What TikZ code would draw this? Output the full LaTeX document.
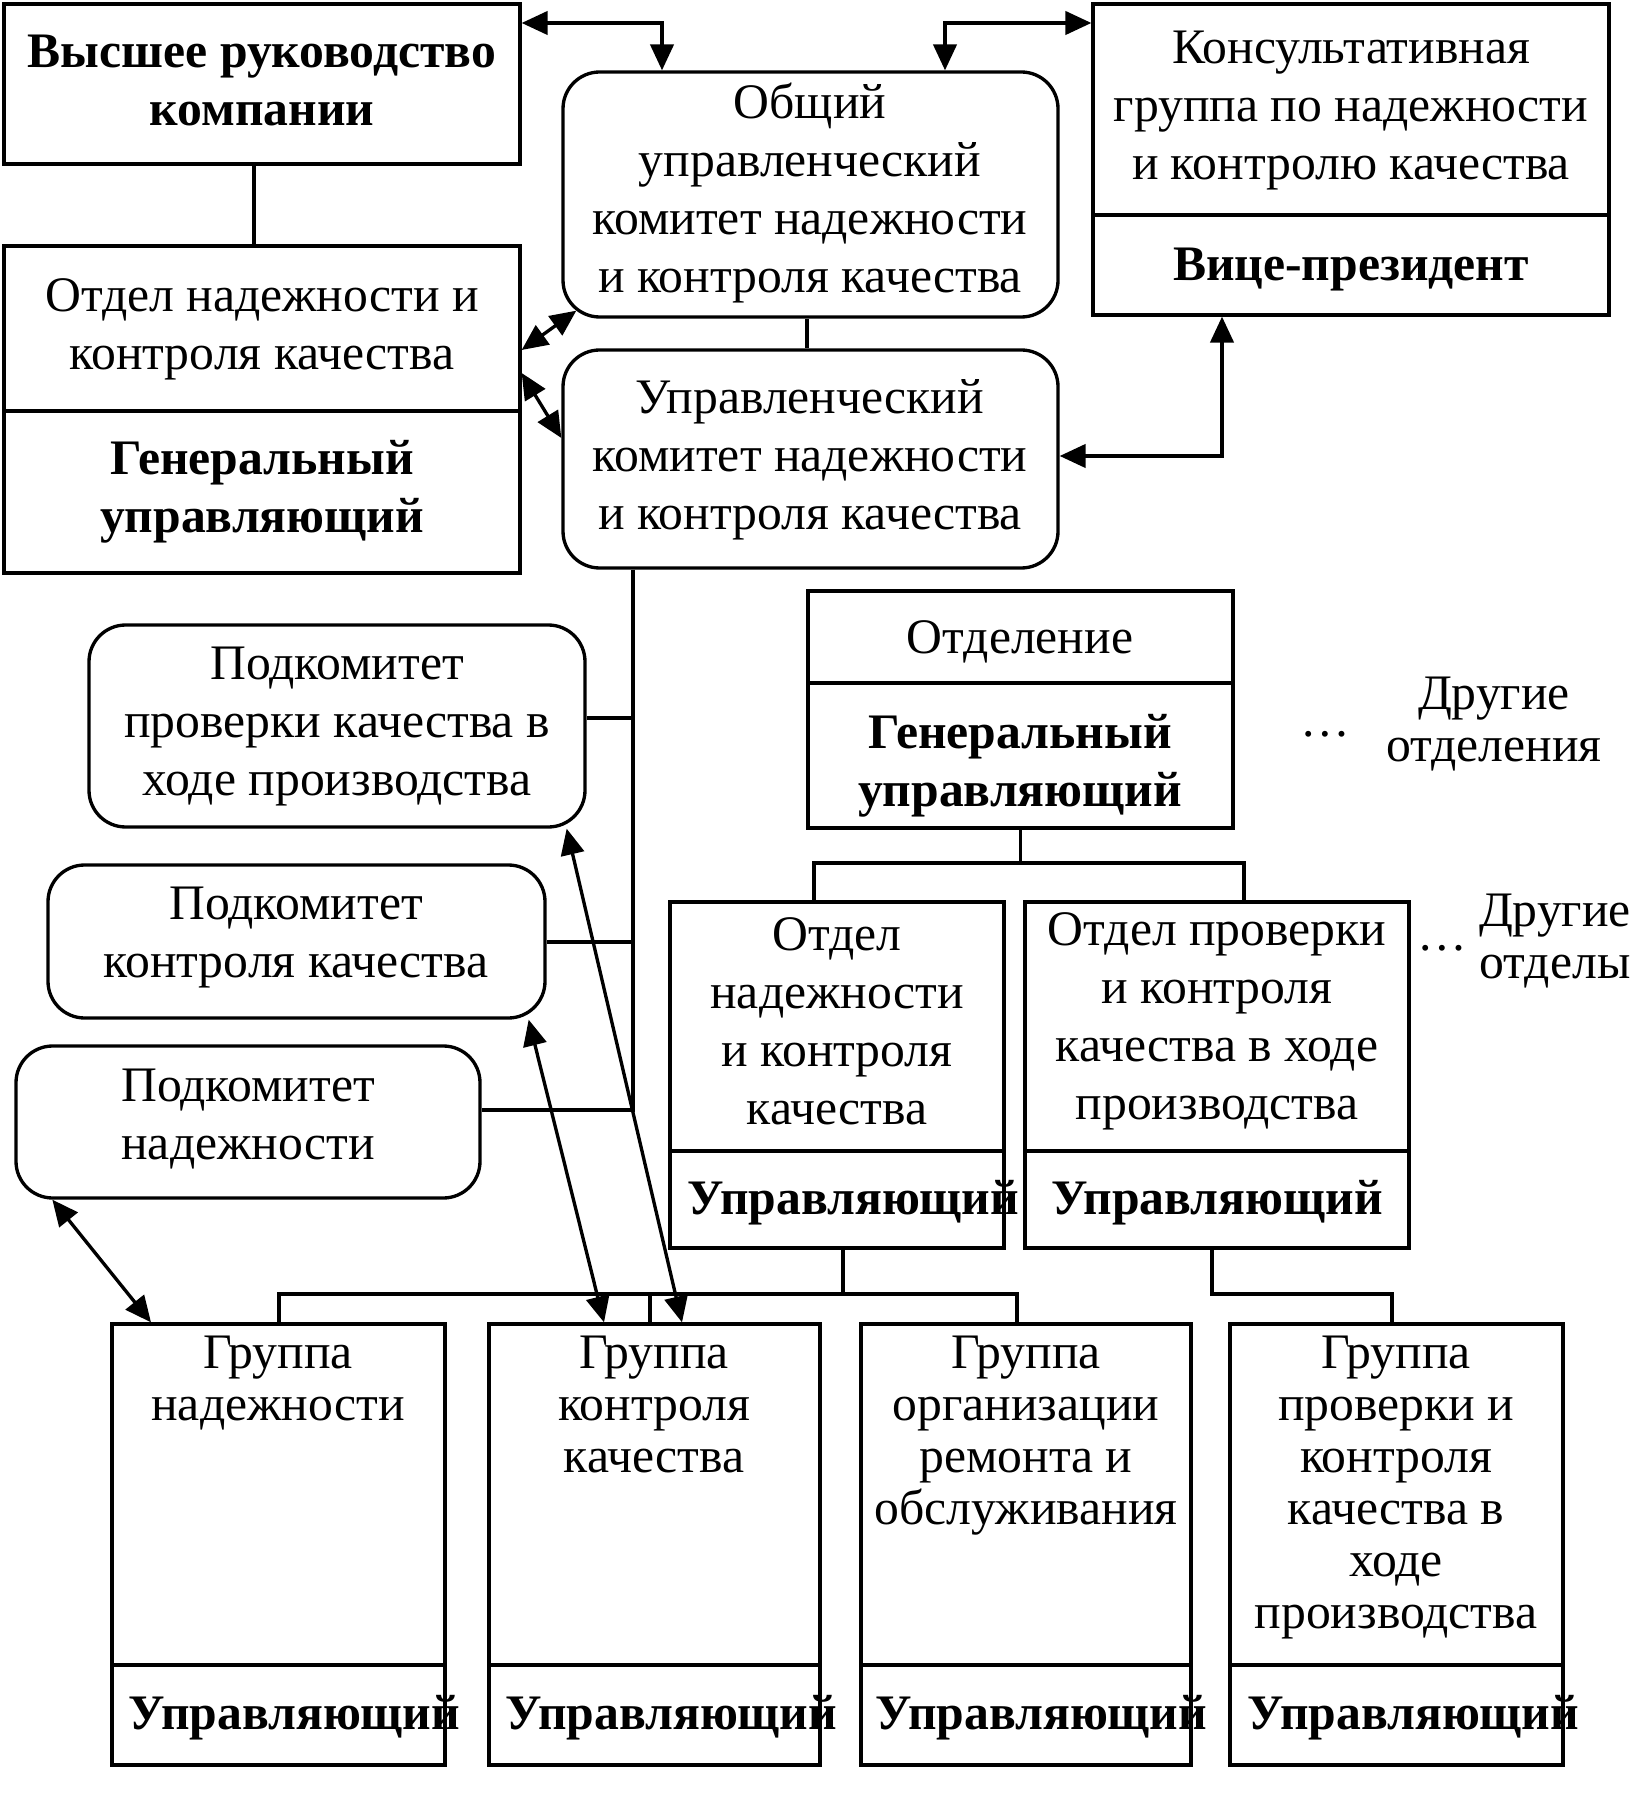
\documentclass[tikz,border=0pt]{standalone}
\usepackage{fontspec}
\setmainfont{Liberation Serif}
\usetikzlibrary{arrows.meta,fit,calc}
\begin{document}
\begin{tikzpicture}[x=0.3pt,y=-0.3pt,line width=1pt,
  box/.style={draw, inner sep=0pt, rectangle},
  rbox/.style={box, rounded corners=11pt},
  txt/.style={font=\fontsize{14.9pt}{17.4pt}\selectfont, align=center, inner sep=0pt},
  btxt/.style={txt, font=\fontsize{14.9pt}{17.4pt}\selectfont\bfseries},
  gtxt/.style={txt, font=\fontsize{14.9pt}{15.6pt}\selectfont},
  dbl/.style={<->, >={Triangle[length=7.8pt,width=7pt]}},
]
\fill[white] (0,0) rectangle (1632,1813);
\useasboundingbox (0,0) rectangle (1632,1813);

% top left
\node[box, fit={(4,4)(520,164)}] (top) {};
\node[btxt] at (262,80) {Высшее руководство\\компании};
\node[box, fit={(4,246)(520,411)}] (t2) {};
\node[box, fit={(4,411)(520,573)}] (b2) {};
\node[txt] at (262,329) {Отдел надежности и\\контроля качества};
\node[btxt] at (262,492) {Генеральный\\управляющий};

% committees
\node[rbox, fit={(563,72)(1058,317)}] (gen) {};
\node[txt] at (810,193) {Общий\\управленческий\\комитет надежности\\и контроля качества};
\node[rbox, fit={(563,350)(1058,568)}] (mgr) {};
\node[txt] at (810,460) {Управленческий\\комитет надежности\\и контроля качества};

% consultative
\node[box, fit={(1093,4)(1609,215)}] (cons) {};
\node[box, fit={(1093,215)(1609,315)}] (vp) {};
\node[txt] at (1351,111) {Консультативная\\группа по надежности\\и контролю качества};
\node[btxt] at (1351,270) {Вице-президент};

% subcommittees
\node[rbox, fit={(89,625)(585,827)}] (sc1) {};
\node[txt] at (337,727) {Подкомитет\\проверки качества в\\ходе производства};
\node[rbox, fit={(48,865)(545,1018)}] (sc2) {};
\node[txt] at (296,938) {Подкомитет\\контроля качества};
\node[rbox, fit={(16,1046)(480,1198)}] (sc3) {};
\node[txt] at (248,1119) {Подкомитет\\надежности};

% division
\node[box, fit={(808,591)(1233,683)}] (dv1) {};
\node[box, fit={(808,683)(1233,828)}] (dv2) {};
\node[txt] at (1020,642) {Отделение};
\node[btxt] at (1020,766) {Генеральный\\управляющий};
\node[txt] (dots1) at (1325,734) {…};
\node[gtxt] (oth1) at (1494,724) {Другие\\отделения};

% departments
\node[box, fit={(670,902)(1004,1151)}] (d1t) {};
\node[box, fit={(670,1151)(1004,1248)}] (d1b) {};
\node[txt] at (837,1021) {Отдел\\надежности\\и контроля\\качества};
\node[btxt, anchor=west] at (686,1203) {Управляющий};
\node[box, fit={(1025,902)(1409,1151)}] (d2t) {};
\node[box, fit={(1025,1151)(1409,1248)}] (d2b) {};
\node[txt] at (1217,1021) {Отдел проверки\\и контроля\\качества в ходе\\производства};
\node[btxt] at (1217,1203) {Управляющий};
\node[txt] (dots2) at (1442,948) {…};
\node[gtxt] (oth2) at (1555,941) {Другие\\отделы};

% groups
\node[box, fit={(112,1324)(445,1665)}] (g1t) {};
\node[box, fit={(112,1665)(445,1765)}] (g1b) {};
\node[gtxt, anchor=north] at (278,1334) {Группа\\надежности};
\node[btxt, anchor=west] at (127,1718) {Управляющий};

\node[box, fit={(489,1324)(820,1665)}] (g2t) {};
\node[box, fit={(489,1665)(820,1765)}] (g2b) {};
\node[gtxt, anchor=north] at (654,1334) {Группа\\контроля\\качества};
\node[btxt, anchor=west] at (504,1718) {Управляющий};

\node[box, fit={(861,1324)(1191,1665)}] (g3t) {};
\node[box, fit={(861,1665)(1191,1765)}] (g3b) {};
\node[gtxt, anchor=north] at (1026,1334) {Группа\\организации\\ремонта и\\обслуживания};
\node[btxt, anchor=west] at (874,1718) {Управляющий};

\node[box, fit={(1230,1324)(1563,1665)}] (g4t) {};
\node[box, fit={(1230,1665)(1563,1765)}] (g4b) {};
\node[gtxt, anchor=north] at (1396,1334) {Группа\\проверки и\\контроля\\качества в\\ходе\\производства};
\node[btxt, anchor=west] at (1246,1718) {Управляющий};

% plain connectors
\draw (top.south -| 254,0) -- (t2.north -| 254,0);
\draw (gen.south -| 807,0) -- (mgr.north -| 807,0);
\draw (mgr.south -| 633,0) |- (sc3.east |- 0,1110);
\draw (633,718) -- (sc1.east |- 0,718);
\draw (633,942) -- (sc2.east |- 0,942);
\draw (dv2.south) -- (dv2.south |- 0,863);
\draw (d1t.north -| 814,0) -- (814,863) -- (1244,863) -- (d2t.north -| 1244,0);
\draw (d1b.south -| 843,0) -- (843,1294);
\draw (g1t.north -| 279,0) -- (279,1294) -- (1017,1294) -- (g3t.north -| 1017,0);
\draw (650,1294) -- (g2t.north -| 650,0);
\draw (d2b.south -| 1212,0) |- (1392,1294) -- (g4t.north -| 1392,0);

% double arrows
\draw[dbl] (top.north east |- 0,23) -| (gen.north -| 662,0);
\draw[dbl] (gen.north -| 945,0) |- (cons.north west |- 0,23);
\draw[dbl] (t2.north east |- 0,350) -- ($(gen.south west)+(15,-8)$);
\draw[dbl] (t2.north east |- 0,373) -- (mgr.west |- 0,438);
\draw[dbl] (mgr.east |- 0,456) -| (vp.south -| 1222,0);
\draw[dbl] ($(sc3.south west)+(38,0)$) -- (g1t.north -| 151,0);
\draw[dbl] ($(sc2.south east)+(-18,0)$) -- (g2t.north -| 604,0);
\draw[dbl] ($(sc1.south east)+(-20,0)$) -- (g2t.north -| 682,0);
\end{tikzpicture}
\end{document}
